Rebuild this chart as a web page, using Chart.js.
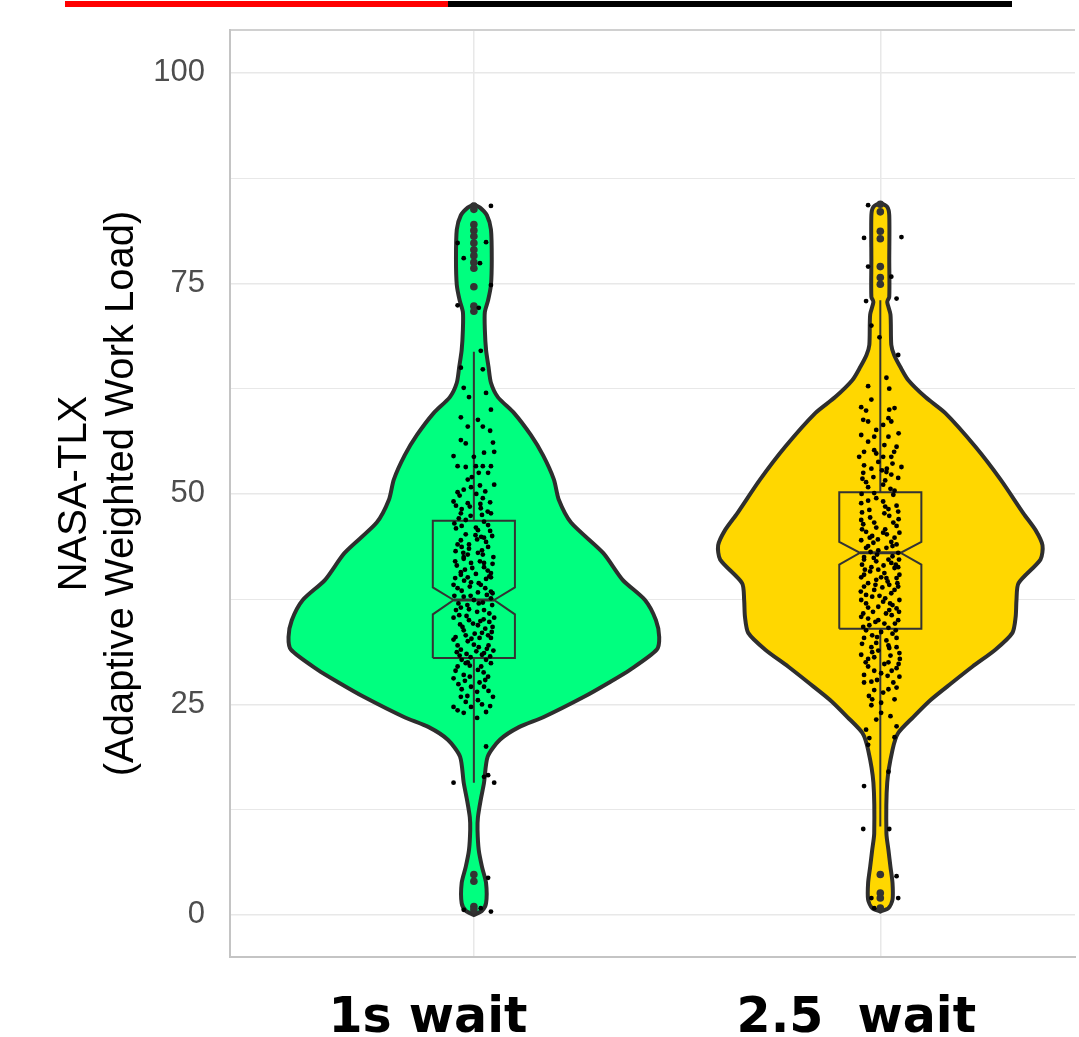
<!DOCTYPE html>
<html>
<head>
<meta charset="utf-8">
<script src="https://cdn.jsdelivr.net/npm/chart.js@4.4.1/dist/chart.umd.min.js"></script>
<style>
  html, body { margin: 0; padding: 0; background: #fff; }
  #wrap { position: relative; width: 1079px; height: 1037px; overflow: hidden; }
  #violinChart { position: absolute; left: 0; top: 0; }
  .topbar { position: absolute; top: 1px; height: 6px; }
  #barRed { left: 65px; width: 383px; background: #ff0000; }
  #barBlack { left: 448px; width: 564px; background: #000; }
</style>
</head>
<body>
<div id="wrap">
  <canvas id="violinChart" width="1079" height="1037"></canvas>
  <div class="topbar" id="barRed"></div>
  <div class="topbar" id="barBlack"></div>
</div>
<script>
// categories and axis
const groups = ['1s wait', '2.5  wait'];
const centers = [1, 2];
const yTickLabels = [0, 25, 50, 75, 100];
const yGridValues = [0, 12.5, 25, 37.5, 50, 62.5, 75, 87.5, 100];

// violin outlines: y value and half width (x units)
const greenY = [84.4, 84.0, 83.1, 81.4, 77.8, 74.8, 73.0, 71.6, 69.5, 67.1, 65.1, 63.2, 61.5, 59.6, 57.0, 54.6, 51.7, 49.3, 46.6, 43.0, 39.8, 37.4, 35.0, 33.0, 31.5, 29.1, 27.6, 25.9, 23.5, 22.3, 20.8, 18.8, 15.7, 13.7, 11.6, 10.1, 7.7, 5.7, 3.8, 1.4, 0.5, 0.0];
const greenHalf = [0, .015, .032, .042, .044, .042, .035, .027, .027, .030, .036, .042, .059, .099, .140, .170, .197, .209, .239, .318, .366, .421, .448, .456, .450, .384, .333, .271, .172, .111, .064, .034, .025, .017, .010, .009, .012, .020, .030, .030, .020, 0];
const goldY = [84.6, 84.1, 83.1, 77.8, 73.4, 72.8, 71.3, 67.7, 66.5, 65.1, 63.5, 61.5, 59.6, 55.6, 51.7, 47.7, 45.7, 43.9, 42.2, 39.4, 37.4, 35.4, 33.5, 31.5, 29.5, 27.6, 25.5, 23.5, 21.6, 19.6, 15.7, 9.7, 7.7, 5.7, 3.8, 1.8, 0.8, 0.4];
const goldHalf = [0, .017, .022, .022, .022, .017, .025, .027, .034, .049, .069, .111, .160, .234, .296, .352, .382, .399, .394, .340, .335, .333, .325, .283, .227, .177, .123, .081, .044, .030, .017, .015, .020, .025, .030, .030, .020, 0];

// notched box stats
const q1 = [30.5, 34.0];
const median = [37.4, 43.0];
const q3 = [46.8, 50.2];
const notchLo = [35.7, 41.6];
const notchHi = [38.9, 44.3];
const whiskLo = [15.7, 10.5];
const whiskHi = [66.9, 73.0];

// boxplot outliers
const outliersGreen = [84.2, 83.8, 82.0, 81.3, 80.6, 79.8, 79.0, 78.3, 77.5, 76.8, 74.6, 72.3, 71.7, 4.8, 4.0, 1.0, 0.6];
const outliersGold = [84.4, 83.5, 81.2, 80.3, 77.0, 75.7, 74.9, 4.8, 2.6, 2.0, 0.8];

// jittered observations [x offset, value]
const jitterGreen = [
  [.042,84.2],[.03,79.9],[-.04,79.8],[-.025,78.0],[.015,77.4],[.042,74.8],[-.04,72.4],[.012,72.1],[.017,67.0],[-.032,65.0],
  [.022,64.8],[-.025,62.6],[.042,60.0],[-.032,59.1],[-.015,58.0],[.022,58.0],[-.032,56.4],[.047,56.1],[-.05,54.5],[0,54.4],
  [.025,54.9],[.05,55.0],[-.04,53.3],[-.02,53.2],[.005,53.3],[.022,53.3],[.042,53.3],[.012,52.5],[.035,52.5],[-.015,51.7],
  [.05,51.1],[-.007,50.8],[-.04,50.2],[-.025,50.5],[-.05,49.1],[-.015,48.9],[.017,48.3],[-.032,47.7],[.042,47.7],[-.037,47.1],
  [.025,46.7],[.01,45.7],[.035,46.3],[-.032,44.5],[.025,44.8],[-.012,44.0],[.035,43.7],[-.025,42.5],[.01,43.0],[-.007,41.8],
  [.025,41.3],[-.032,40.7],[.042,40.6],[-.015,40.1],[-.025,42.3],[.025,41.8],[-.032,40.4],[.042,40.1],[-.007,39.5],[.017,39.2],
  [-.05,39.2],[.042,38.4],[-.025,37.8],[0,37.4],[-.032,36.5],[.025,36.2],[-.05,35.3],[.05,35.3],[.01,34.4],[-.025,33.8],
  [.042,32.9],[-.05,32.7],[0,32.1],[-.032,31.5],[.025,31.1],[-.015,30.0],[.042,29.9],[-.04,29.5],[.01,29.1],[-.025,28.5],
  [-.05,28.1],[.035,28.3],[-.007,27.1],[.025,27.1],[-.032,25.9],[.01,25.5],[.047,25.9],[-.05,24.7],[-.007,24.7],[.03,24.1],
  [-.04,24.3],[.03,20.0],[.035,16.6],[-.05,15.7],[.05,15.7],[.025,16.4],[.035,4.4],[.042,0.4],[-.025,0.6],[.017,0.8],
  [.005,46.0],[-.02,45.2],[.03,44.3],[-.045,43.2],[.015,42.0],[-.01,39.0],[.032,38.0],[-.038,37.0],[.008,36.0],[-.018,35.5],
  [.038,34.8],[-.028,34.2],[.02,33.5],[-.045,33.0],[.012,31.8],[-.008,30.6],[.03,30.3],[-.035,30.8],[.045,36.8],[-.012,43.5],
  [.022,49.5],[-.03,48.2],[.006,50.0],[.028,38.8],[-.042,41.5],[.018,29.5],[-.022,27.8],[.008,26.5],[-.015,32.5],[.035,33.2],
  [.045,45.0],[-.048,46.5],[.02,47.5],[-.01,48.5],[.04,49.0],[-.035,49.8],[.015,51.0],[-.005,52.0],[.028,50.3],[-.02,46.9],
  [.008,44.6],[-.04,44.0],[.048,42.5],[-.03,43.7],[.02,43.3],[-.015,42.8],[.034,40.9],[-.022,41.0],[.005,40.5],[-.046,40.0],
  [.012,39.4],[-.03,38.5],[.046,38.2],[-.008,37.9],[.022,37.1],[-.044,36.2],[.038,35.8],[-.012,35.0],[.016,34.9],[-.036,35.6],
  [.028,34.0],[-.02,33.2],[.044,33.6],[.002,33.4],[-.04,32.0],[.032,31.6],[-.018,31.0],[.006,31.3],[-.03,30.3],[.04,30.7],
  [-.01,29.6],[.024,28.8],[-.045,29.0],[.014,27.6],[-.03,26.8],[.036,26.6],[-.016,26.0],[.02,25.0],[-.025,24.0],[.008,23.4],
  [.04,57.5],[-.02,56.0],[.01,58.8],[-.012,61.5],[.03,62.0],
  [.04,45.6],[-.044,45.9],[.018,44.9],[-.026,43.0],[.046,41.7],[-.004,41.2],[.03,39.9],[-.04,38.8],[.01,38.3],[-.016,36.8],
  [.042,37.6],[-.048,37.9],[.024,35.1],[-.002,34.6],[-.034,34.5],[.046,34.2],[.014,32.9],[-.042,31.2],[.036,32.0],[-.006,32.8],
  [.02,30.9],[-.02,29.9],[.048,31.4],[-.038,27.4],[.028,27.9],[-.01,28.3],[.04,24.8],[-.02,25.3],[.016,48.8],[-.008,47.4],
  [.034,47.9],[-.044,48.6],[.004,45.1],[-.03,46.2],[.022,42.8],[-.046,42.0],[.012,37.0],[-.024,39.7],[.038,40.2],[-.012,36.3]
];
const jitterGold = [
  [-.03,84.3],[-.04,80.4],[.052,80.5],[-.03,77.0],[.027,75.8],[-.035,72.9],[.04,73.2],[-.022,70.0],[-.002,68.6],[.044,66.5],
  [.015,63.8],[-.03,62.8],[.022,62.5],[-.022,61.2],[-.047,60.3],[.035,60.2],[-.035,59.9],[.022,60.0],[-.042,58.8],[.027,58.6],
  [-.03,58.6],[.007,58.2],[-.047,57.0],[-.015,56.8],[.02,56.8],[.04,55.6],[-.015,55.2],[-.052,54.4],[.007,54.4],[.027,54.4],
  [-.04,53.4],[-.005,53.8],[.052,53.2],[.015,52.6],[-.042,52.5],[-.017,52.0],[.027,52.3],[.044,51.9],[-.035,51.4],[.007,51.1],
  [-.015,50.1],[.032,49.9],[-.047,48.9],[.007,49.1],[-.027,48.1],[.044,47.9],[.01,47.7],[-.047,46.9],[-.015,46.6],[.032,46.6],
  [-.035,45.5],[.007,45.4],[.047,45.4],[-.047,44.5],[-.017,44.2],[.027,44.3],[-.005,43.3],[.044,43.0],[-.04,42.5],[.02,42.2],
  [-.022,41.3],[.035,41.2],[-.04,40.4],[.002,40.1],[.047,40.4],[-.04,42.2],[.027,41.8],[-.005,41.0],[.044,41.3],[-.047,40.1],
  [.015,40.0],[-.03,39.4],[.044,39.0],[-.015,38.6],[.027,38.2],[-.047,37.4],[.007,37.2],[.047,37.4],[-.03,36.5],[.022,36.2],
  [-.047,35.4],[-.005,35.0],[.044,35.0],[-.027,34.4],[.02,34.1],[.002,33.6],[-.04,32.9],[.04,32.9],[-.01,32.3],[.022,31.7],
  [-.047,30.9],[.047,31.1],[-.015,30.6],[.02,30.0],[-.03,29.5],[.04,29.3],[.002,28.7],[-.04,28.5],[.047,28.3],[-.022,27.7],
  [.032,27.6],[-.015,26.7],[.007,26.4],[-.022,24.9],[.002,25.2],[.002,24.0],[-.035,22.0],[.04,22.4],[-.027,21.0],[.035,21.1],
  [-.03,20.2],[.02,17.0],[-.04,15.3],[-.042,10.2],[.022,10.2],[.04,4.6],[.044,2.0],[-.022,2.0],[-.015,0.8],
  [.012,48.5],[-.025,47.2],[.035,44.8],[-.008,42.8],[.018,39.6],[-.035,38.0],[.03,36.8],[-.012,34.8],[.038,33.8],[-.02,31.2],
  [.01,29.8],[-.045,45.8],[.025,50.6],[-.01,46.0],[.04,48.6],[-.03,43.8],[.005,38.9],[-.018,36.0],
  [.045,47.0],[-.045,47.8],[.02,48.2],[-.01,49.5],[.035,50.4],[-.03,50.8],[.012,51.6],[-.022,53.0],[.03,53.6],[-.04,55.0],
  [.01,55.8],[-.03,56.2],[.045,57.2],[-.01,57.6],[.02,59.0],[-.02,45.0],[.04,44.0],[-.035,43.6],[.015,43.6],[-.01,42.0],
  [.03,42.6],[-.045,41.6],[.008,41.5],[-.025,40.8],[.04,40.0],[-.01,39.8],[.022,39.2],[-.04,39.0],[.035,38.6],[-.02,37.8],
  [.012,37.6],[-.035,37.0],[.04,36.4],[-.005,36.6],[.028,35.6],[-.042,35.8],[.01,34.6],[-.02,33.2],[.03,33.4],[-.035,33.8],
  [.015,32.6],[-.045,32.2],[.04,31.8],[-.005,31.4],[.025,30.8],[-.03,30.4],[.045,29.8],[-.015,29.0],[.018,28.4],[-.04,27.6],
  [.02,26.8],[-.028,26.0],[.035,25.6],[-.01,23.2],[.025,23.6],
  [.04,46.2],[-.042,46.4],[.016,45.2],[-.026,44.8],[.046,42.2],[-.006,44.6],[.03,43.8],[-.038,41.0],[.01,40.6],[-.016,42.4],
  [.042,39.4],[-.048,38.4],[.024,37.0],[-.002,37.9],[-.03,35.2],[.046,36.0],[.014,35.8],[-.042,34.2],[.036,34.6],[-.008,33.0],
  [.02,32.0],[-.022,31.8],[.048,30.4],[-.036,30.0],[.028,29.0],[-.008,27.9],[.04,27.0],[-.02,25.6],[.016,53.0],[-.01,54.8],
  [.034,55.0],[-.044,51.8],[.004,52.8],[-.03,49.2],[.022,47.4],[-.046,50.0],[.012,45.8],[-.024,43.1],[.038,41.6],[-.012,39.2]
];

const BOX_HALF = 0.101;
const NOTCH_HALF = 0.05;
const OUTLINE = '#2e2e2e';
// category labels sit a little left of the violin centres
const LABEL_AT = [0.887, 1.941];

function violinOutline(center, ys, halves) {
  const pts = [];
  for (let i = 0; i < ys.length; i++) pts.push({x: center + halves[i], y: ys[i]});
  for (let i = ys.length - 1; i >= 0; i--) pts.push({x: center - halves[i], y: ys[i]});
  pts.push({x: center + halves[0], y: ys[0]});
  return pts;
}

function boxOutline(i) {
  const c = centers[i], w = BOX_HALF, n = NOTCH_HALF;
  return [
    {x: c - w, y: q1[i]}, {x: c - w, y: notchLo[i]}, {x: c - n, y: median[i]}, {x: c - w, y: notchHi[i]},
    {x: c - w, y: q3[i]}, {x: c + w, y: q3[i]}, {x: c + w, y: notchHi[i]}, {x: c + n, y: median[i]},
    {x: c + w, y: notchLo[i]}, {x: c + w, y: q1[i]}, {x: c - w, y: q1[i]},
    {x: c, y: null},
    {x: c, y: q3[i]}, {x: c, y: whiskHi[i]},
    {x: c, y: null},
    {x: c, y: q1[i]}, {x: c, y: whiskLo[i]}
  ];
}

function medianLine(i) {
  return [{x: centers[i] - NOTCH_HALF, y: median[i]}, {x: centers[i] + NOTCH_HALF, y: median[i]}];
}

const violinColors = ['#00ff7f', '#ffd700'];
const profiles = [[greenY, greenHalf], [goldY, goldHalf]];
const jitters = [jitterGreen, jitterGold];
const outliers = [outliersGreen, outliersGold];

const datasets = [];
centers.forEach((c, i) => {
  datasets.push({
    data: violinOutline(c, profiles[i][0], profiles[i][1]),
    showLine: true, fill: 'shape', tension: 0.25,
    backgroundColor: violinColors[i], borderColor: OUTLINE, borderWidth: 4,
    pointRadius: 0, order: 4
  });
  datasets.push({
    data: boxOutline(i), showLine: true, spanGaps: false, fill: false,
    borderColor: '#333333', borderWidth: 2, pointRadius: 0, order: 3
  });
  datasets.push({
    data: medianLine(i), showLine: true, fill: false,
    borderColor: '#333333', borderWidth: 3, pointRadius: 0, order: 3
  });
  datasets.push({
    data: outliers[i].map(v => ({x: c, y: v})),
    pointRadius: 3.8, pointBackgroundColor: '#333333', pointBorderWidth: 0, order: 2
  });
  datasets.push({
    data: jitters[i].map(p => ({x: c + p[0], y: p[1]})),
    pointRadius: 2.4, pointBackgroundColor: '#000', pointBorderWidth: 0, order: 1
  });
});

const Y_MIN = -5.0, Y_MAX = 105.1;
// plot area ends at 1074px, so this max keeps 1 at 473px and 2 at 879px
const X_MIN = 0.4, X_MAX = 2.479;
const GRID = '#e8e8e8';
const PANEL = '#c4c4c4';

new Chart(document.getElementById('violinChart'), {
  type: 'scatter',
  data: { datasets: datasets },
  options: {
    responsive: false,
    animation: false,
    layout: { padding: { top: 30, right: 0, bottom: 0, left: 0 } },
    plugins: { legend: { display: false }, tooltip: { enabled: false } },
    scales: {
      x: {
        min: X_MIN, max: X_MAX,
        afterBuildTicks: s => { s.ticks = LABEL_AT.map(v => ({value: v})); },
        afterFit: s => { s.height = 80; s.paddingLeft = 0; s.paddingRight = 0; },
        ticks: {
          callback: (v, idx) => groups[idx],
          font: { family: "'DejaVu Sans', sans-serif", size: 49, weight: 'bold' },
          color: '#000', padding: 25, maxRotation: 0, autoSkip: false
        },
        grid: { display: false },
        border: { display: true, color: PANEL, width: 2 }
      },
      xGrid: {
        type: 'linear', position: 'top',
        min: X_MIN, max: X_MAX,
        afterBuildTicks: s => { s.ticks = centers.map(v => ({value: v})); },
        afterFit: s => { s.height = 0; s.paddingLeft = 0; s.paddingRight = 0; },
        ticks: { display: false },
        grid: { color: GRID, lineWidth: 1.5, drawTicks: false },
        border: { display: false }
      },
      y: {
        min: Y_MIN, max: Y_MAX,
        afterBuildTicks: s => { s.ticks = [Y_MIN, ...yGridValues, Y_MAX].map(v => ({value: v})); },
        afterFit: s => { s.width = 230; s.paddingTop = 0; s.paddingBottom = 0; },
        ticks: {
          callback: v => yTickLabels.includes(v) ? String(v) : '',
          font: { family: "'Liberation Sans', Arial, sans-serif", size: 31 },
          color: '#4d4d4d', padding: 25, autoSkip: false
        },
        grid: {
          drawTicks: false,
          color: c => c.tick.value === Y_MAX ? '#d0d0d0' : (c.tick.value === Y_MIN ? 'rgba(0,0,0,0)' : GRID),
          lineWidth: c => c.tick.value === Y_MAX ? 2 : (yTickLabels.includes(c.tick.value) ? 1.6 : 1.1)
        },
        border: { display: true, color: PANEL, width: 2 },
        title: {
          display: true,
          text: ['NASA-TLX', '(Adaptive Weighted Work Load)'],
          font: { family: "'Liberation Sans', Arial, sans-serif", size: 40, lineHeight: 1.175 },
          color: '#000',
          padding: { top: 51, bottom: 0 }
        }
      }
    }
  }
});
</script>
</body>
</html>
